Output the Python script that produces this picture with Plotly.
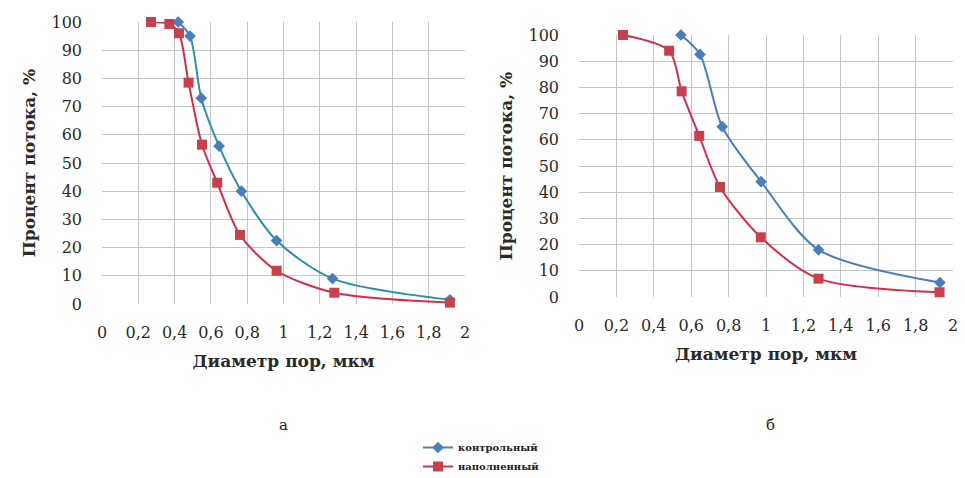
import plotly.graph_objects as go

# Left panel (а)
a_ctrl_x = [0.42, 0.485, 0.547, 0.645, 0.768, 0.962, 1.27, 1.917]
a_ctrl_y = [100, 95, 73, 56, 40, 22.5, 9, 1.5]
a_fill_x = [0.27, 0.371, 0.424, 0.477, 0.551, 0.635, 0.76, 0.962, 1.28, 1.917]
a_fill_y = [100, 99.3, 96, 78.5, 56.5, 43, 24.5, 11.8, 4, 0.5]

# Right panel (б)
b_ctrl_x = [0.545, 0.647, 0.766, 0.974, 1.281, 1.93]
b_ctrl_y = [100, 92.6, 65, 44, 18, 5.5]
b_fill_x = [0.235, 0.482, 0.549, 0.643, 0.754, 0.972, 1.281, 1.928]
b_fill_y = [100, 94, 78.5, 61.5, 42, 22.8, 7, 1.8]

x_ticks = [0, 0.2, 0.4, 0.6, 0.8, 1, 1.2, 1.4, 1.6, 1.8, 2]
x_ticktext = ["0", "0,2", "0,4", "0,6", "0,8", "1", "1,2", "1,4", "1,6", "1,8", "2"]
y_ticks = [0, 10, 20, 30, 40, 50, 60, 70, 80, 90, 100]

series_names = ["контрольный", "наполненный"]
x_title = "Диаметр пор, мкм"
y_title = "Процент потока, %"
panel_labels = ["а", "б"]

BLUE = "#4a7ebb"
TEAL = "#2f8fa5"
RED = "#d42f4a"
RED_M = "#c8404c"
SERIF = "DejaVu Serif"
TXT = "#2a2a2a"

fig = go.Figure()

fig.add_trace(go.Scatter(x=a_ctrl_x, y=a_ctrl_y, mode="lines+markers", xaxis="x", yaxis="y",
                         line=dict(color=TEAL, width=2, shape="spline", smoothing=0.8),
                         marker=dict(symbol="diamond", size=9, color=BLUE),
                         showlegend=False, cliponaxis=False))
fig.add_trace(go.Scatter(x=a_fill_x, y=a_fill_y, mode="lines+markers", xaxis="x", yaxis="y",
                         line=dict(color=RED, width=2, shape="spline", smoothing=0.8),
                         marker=dict(symbol="square", size=10, color=RED_M),
                         showlegend=False, cliponaxis=False))
fig.add_trace(go.Scatter(x=b_ctrl_x, y=b_ctrl_y, mode="lines+markers", xaxis="x2", yaxis="y2",
                         name=series_names[0],
                         line=dict(color=BLUE, width=2, shape="spline", smoothing=0.8),
                         marker=dict(symbol="diamond", size=9, color=BLUE),
                         cliponaxis=False))
fig.add_trace(go.Scatter(x=b_fill_x, y=b_fill_y, mode="lines+markers", xaxis="x2", yaxis="y2",
                         name=series_names[1],
                         line=dict(color=RED, width=2, shape="spline", smoothing=0.8),
                         marker=dict(symbol="square", size=10, color=RED_M),
                         cliponaxis=False))

W, H = 965, 478
OFF = 8  # page body margin


def px(v):
    return (v - OFF) / W


def py(v):
    return 1 - (v - OFF) / H


def xaxis(domain, anchor):
    return dict(domain=domain, anchor=anchor, range=[0, 2], tickvals=x_ticks, ticktext=x_ticktext,
                showgrid=True, gridcolor="#c4c4c4", gridwidth=1, zeroline=False, showline=False,
                ticks="", ticklabelstandoff=17, automargin=False,
                tickfont=dict(family=SERIF, size=16, color=TXT),
                title=dict(text="<b>" + x_title + "</b>", font=dict(family=SERIF, size=17, color=TXT),
                           standoff=14))


def yaxis(domain, anchor):
    return dict(domain=domain, anchor=anchor, range=[0, 100], tickvals=y_ticks,
                showgrid=True, gridcolor="#c4c4c4", gridwidth=1, zeroline=False, showline=False,
                ticks="", ticklabelstandoff=19, automargin=False,
                tickfont=dict(family=SERIF, size=16, color=TXT),
                title=dict(text="<b>" + y_title + "</b>", font=dict(family=SERIF, size=17, color=TXT),
                           standoff=11))


fig.update_layout(
    width=W, height=H,
    font=dict(family=SERIF, color=TXT),
    margin=dict(l=0, r=0, t=0, b=0, autoexpand=False),
    paper_bgcolor="white", plot_bgcolor="white",
    xaxis=xaxis([px(102), px(465)], "y"),
    yaxis=yaxis([py(304), py(22)], "x"),
    xaxis2=xaxis([px(579), px(953)], "y2"),
    yaxis2=yaxis([py(297), py(35)], "x2"),
    showlegend=True,
    legend=dict(x=px(418), y=py(433), xanchor="left", yanchor="top",
                font=dict(family=SERIF, size=10, color="#222222", weight="bold"),
                tracegroupgap=0, itemwidth=30, bgcolor="rgba(0,0,0,0)"),
    annotations=[
        dict(text=panel_labels[0], x=px(283), y=py(425), xref="paper", yref="paper",
             xanchor="center", yanchor="middle",
             showarrow=False, font=dict(family=SERIF, size=15, color="#222222")),
        dict(text=panel_labels[1], x=px(770), y=py(425), xref="paper", yref="paper",
             xanchor="center", yanchor="middle",
             showarrow=False, font=dict(family=SERIF, size=15, color="#222222")),
    ],
)

fig.write_html("out.html")
